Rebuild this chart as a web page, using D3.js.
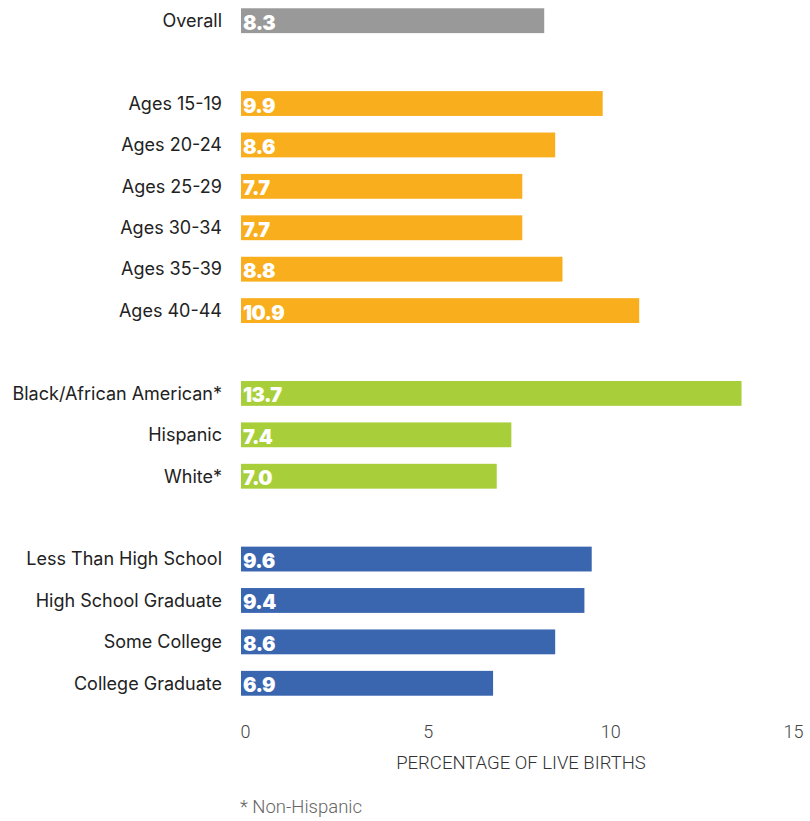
<!DOCTYPE html>
<html><head><meta charset="utf-8">
<script src="https://cdn.jsdelivr.net/npm/d3@7"></script>
<style>body{margin:0;background:#fff;} svg{display:block;}</style>
</head><body>
<svg id="chart" width="810" height="821"></svg>
<script>
// Data
const categories = ["Overall", "", "Ages 15-19", "Ages 20-24", "Ages 25-29", "Ages 30-34", "Ages 35-39", "Ages 40-44", " ",
  "Black/African American*", "Hispanic", "White*", "  ",
  "Less Than High School", "High School Graduate", "Some College", "College Graduate"];
const values = [8.3, null, 9.9, 8.6, 7.7, 7.7, 8.8, 10.9, null, 13.7, 7.4, 7.0, null, 9.6, 9.4, 8.6, 6.9];
const groups = ["overall", null, "age", "age", "age", "age", "age", "age", null, "race", "race", "race", null, "edu", "edu", "edu", "edu"];
const groupNames = ["overall", "age", "race", "edu"];
const groupColors = ["#999999", "#F9AE1E", "#A8CF3A", "#3A66B0"];
const xTicks = [0, 5, 10, 15];
const xTitle = "PERCENTAGE OF LIVE BIRTHS";
const footnote = "* Non-Hispanic";

const svg = d3.select("#chart");
const x = d3.scaleLinear().domain([0, 15]).range([241, 789]);
const y = d3.scaleBand().domain(categories).range([0, 704]).paddingInner(0.4).paddingOuter(0.2);
const color = d3.scaleOrdinal().domain(groupNames).range(groupColors);

const rows = categories.map((c, i) => ({cat: c, value: values[i], group: groups[i]})).filter(d => d.value != null);

svg.selectAll("rect.bar").data(rows).join("rect")
  .attr("class", "bar")
  .attr("x", x(0))
  .attr("y", d => y(d.cat))
  .attr("width", d => x(d.value) - x(0))
  .attr("height", y.bandwidth())
  .attr("fill", d => color(d.group));

svg.selectAll("text.val").data(rows).join("text")
  .attr("class", "val")
  .attr("x", x(0) + 2)
  .attr("y", d => y(d.cat) + y.bandwidth() / 2 + 9)
  .attr("font-family", "Inter, 'DejaVu Sans', sans-serif")
  .attr("font-weight", 900)
  .attr("font-size", 20)
  .attr("letter-spacing", "-0.5")
  .attr("fill", "#fff")
  .text(d => d.value.toFixed(1));

svg.selectAll("text.cat").data(rows).join("text")
  .attr("class", "cat")
  .attr("x", 222)
  .attr("y", d => y(d.cat) + y.bandwidth() / 2)
  .attr("dy", "0.35em")
  .attr("text-anchor", "end")
  .attr("font-family", "Inter, 'Noto Sans', sans-serif")
  .attr("font-size", 18)
  .attr("fill", "#222")
  .text(d => d.cat);

const axis = d3.axisBottom(x).tickValues(xTicks).tickSize(0).tickPadding(0).tickFormat(d3.format("d"));
const ag = svg.append("g").attr("transform", "translate(4,725)").call(axis);
ag.select(".domain").remove();
ag.selectAll("text")
  .attr("font-family", "Roboto, sans-serif")
  .attr("font-weight", 300)
  .attr("font-size", 18)
  .attr("fill", "#444");

svg.append("text")
  .attr("x", 521).attr("y", 769)
  .attr("text-anchor", "middle")
  .attr("font-family", "Roboto, sans-serif")
  .attr("font-weight", 300)
  .attr("font-size", 18.5)
  .attr("fill", "#333")
  .text(xTitle);

svg.append("text")
  .attr("x", 240).attr("y", 813)
  .attr("font-family", "Roboto, sans-serif")
  .attr("font-weight", 300)
  .attr("font-size", 18.5)
  .attr("fill", "#666")
  .text(footnote);
</script>
</body></html>
